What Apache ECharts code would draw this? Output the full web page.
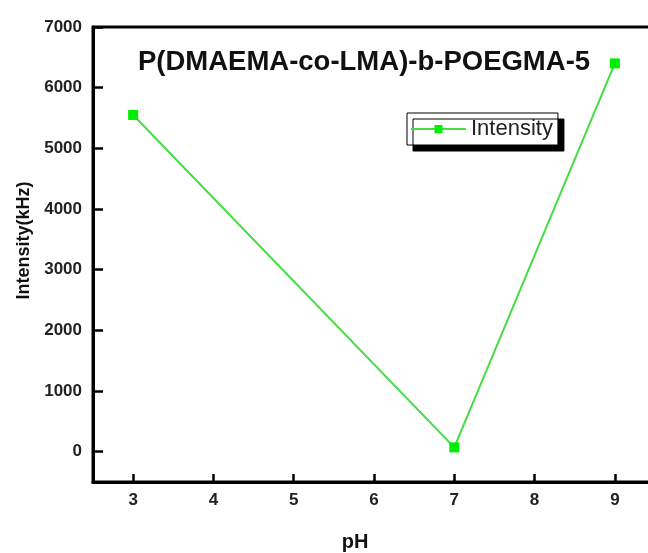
<!DOCTYPE html>
<html>
<head>
<meta charset="utf-8">
<script src="https://cdn.jsdelivr.net/npm/echarts@6/dist/echarts.min.js"></script>
<style>html,body{margin:0;padding:0;background:#fff;}#c{width:648px;height:553px;}</style>
</head>
<body>
<div id="c"></div>
<script>
const pH = [3, 7, 9];
const intensity = [5550, 70, 6400];
const xTicks = [3, 4, 5, 6, 7, 8, 9];
const yTicks = [0, 1000, 2000, 3000, 4000, 5000, 6000, 7000];
const titleText = 'P(DMAEMA-co-LMA)-b-POEGMA-5';
const seriesName = 'Intensity';

const chart = echarts.init(document.getElementById('c'));
const font = 'Liberation Sans, Arial, sans-serif';
chart.setOption({
  animation: false,
  backgroundColor: '#fff',
  title: {
    text: titleText, left: 359, top: 43, textAlign: 'center',
    textStyle: {fontFamily: font, fontSize: 27.5, fontWeight: 'bold', color: '#111'}
  },
  legend: {
    data: [seriesName], left: 407, top: 113, orient: 'horizontal',
    backgroundColor: '#fff', borderColor: '#000', borderWidth: 1,
    padding: [5, 5, 5, 3], itemWidth: 55, itemHeight: 10, itemGap: 0,
    shadowColor: '#000', shadowBlur: 0, shadowOffsetX: 6, shadowOffsetY: 6,
    textStyle: {fontFamily: font, fontSize: 22, color: '#222', padding: [0, 0, 0, 0]}
  },
  grid: {left: 93, width: 562, top: 27, bottom: 71, outerBoundsMode: 'none', containLabel: false, show: true, borderColor: '#000', borderWidth: 3, backgroundColor: 'transparent'},
  xAxis: {
    type: 'value', min: 2.5, max: 9.5,
    name: 'pH', nameLocation: 'middle', nameGap: 50,
    nameTextStyle: {fontFamily: font, fontSize: 20, fontWeight: 'bold', color: '#111', padding: [0, 38, 0, 0]},
    axisLine: {show: true, onZero: false, lineStyle: {color: '#000', width: 3}},
    axisTick: {show: true, inside: true, length: 8, lineStyle: {color: '#000', width: 2.5}, customValues: xTicks},
    axisLabel: {fontFamily: font, fontSize: 17, fontWeight: 'bold', color: '#222', margin: 10, customValues: xTicks, formatter: v => String(v)},
    splitLine: {show: false}
  },
  yAxis: {
    type: 'value', min: -500, max: 7000,
    name: 'Intensity(kHz)', nameLocation: 'middle', nameGap: 55, nameRotate: 90,
    nameTextStyle: {fontFamily: font, fontSize: 18, fontWeight: 'bold', color: '#111', padding: [0, 0, 0, 28]},
    axisLine: {show: true, onZero: false, lineStyle: {color: '#000', width: 3}},
    axisTick: {show: true, inside: true, length: 10, lineStyle: {color: '#000', width: 2.5}, customValues: yTicks},
    axisLabel: {fontFamily: font, fontSize: 17, fontWeight: 'bold', color: '#222', margin: 11, customValues: yTicks, formatter: v => String(v)},
    splitLine: {show: false}
  },
  series: [{
    name: seriesName, type: 'line',
    data: pH.map((x, i) => [x, intensity[i]]),
    symbol: 'rect', symbolSize: 10,
    itemStyle: {color: '#00ee00'},
    lineStyle: {color: '#44dd44', width: 2}
  }]
});
</script>
</body>
</html>
